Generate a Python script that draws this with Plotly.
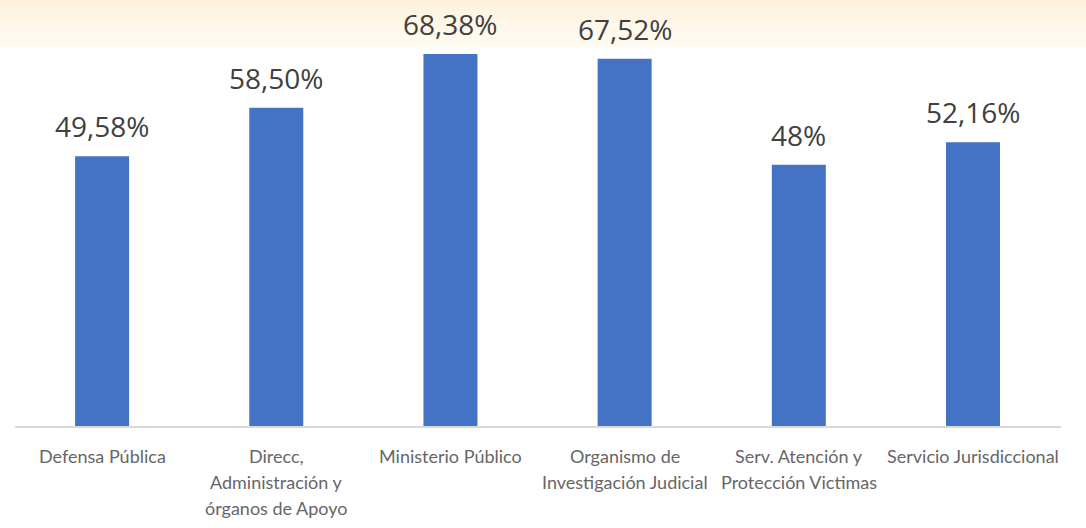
import plotly.graph_objects as go

categories = [
    "Defensa Pública",
    "Direcc,<br>Administración y<br>órganos de Apoyo",
    "Ministerio Público",
    "Organismo de<br>Investigación Judicial",
    "Serv. Atención y<br>Protección Victimas",
    "Servicio Jurisdiccional",
]
values = [49.58, 58.50, 68.38, 67.52, 48.0, 52.16]
value_labels = ["49,58%", "58,50%", "68,38%", "67,52%", "48%", "52,16%"]

fig = go.Figure()
fig.add_trace(go.Bar(
    x=categories, y=values,
    marker=dict(color="#4472C4", line=dict(width=0)),
    cliponaxis=False,
    width=0.31,
))

annotations = []
# value labels above bars
for cat, v, lab in zip(categories, values, value_labels):
    annotations.append(dict(
        x=cat, y=v, xref="x", yref="y", text=lab, showarrow=False,
        yanchor="bottom", yshift=9,
        font=dict(family="Open Sans", size=28, color="#404040"),
    ))
# category labels, one annotation per line for exact line spacing
for cat in categories:
    for i, line in enumerate(cat.split("<br>")):
        annotations.append(dict(
            x=cat, y=0, xref="x", yref="y", text=line, showarrow=False,
            yanchor="middle", yshift=-(30 + 26 * i),
            font=dict(family="Lato", size=18, color="#666666"),
        ))

# peach gradient band at top
top_px = 426.0
n = 16
band_h = 47.0
c0 = (255, 240, 218)
c1 = (255, 251, 243)
shapes = []
for i in range(n):
    t = i / (n - 1)
    col = tuple(round(c0[k] + (c1[k] - c0[k]) * t) for k in range(3))
    y_top = i * band_h / n
    y_bot = (i + 1) * band_h / n
    shapes.append(dict(
        type="rect", xref="paper", yref="paper",
        x0=-0.02, x1=1.03,
        y0=(top_px - y_bot) / top_px, y1=(top_px - y_top) / top_px + (0.01 if i == 0 else 0),
        fillcolor="rgb(%d,%d,%d)" % col, line=dict(width=0), layer="below",
    ))

fig.update_layout(
    width=1086, height=528,
    margin=dict(l=15, r=25, t=0, b=102),
    paper_bgcolor="white", plot_bgcolor="rgba(0,0,0,0)",
    shapes=shapes,
    annotations=annotations,
    showlegend=False,
    xaxis=dict(
        showline=True, linecolor="#D9D9D9", linewidth=2,
        showticklabels=False, ticks="", showgrid=False,
    ),
    yaxis=dict(range=[0, 78.3], visible=False, showgrid=False),
)

fig.write_html("out.html", config={"displayModeBar": False},
               post_script="document.body.style.margin='0';")
